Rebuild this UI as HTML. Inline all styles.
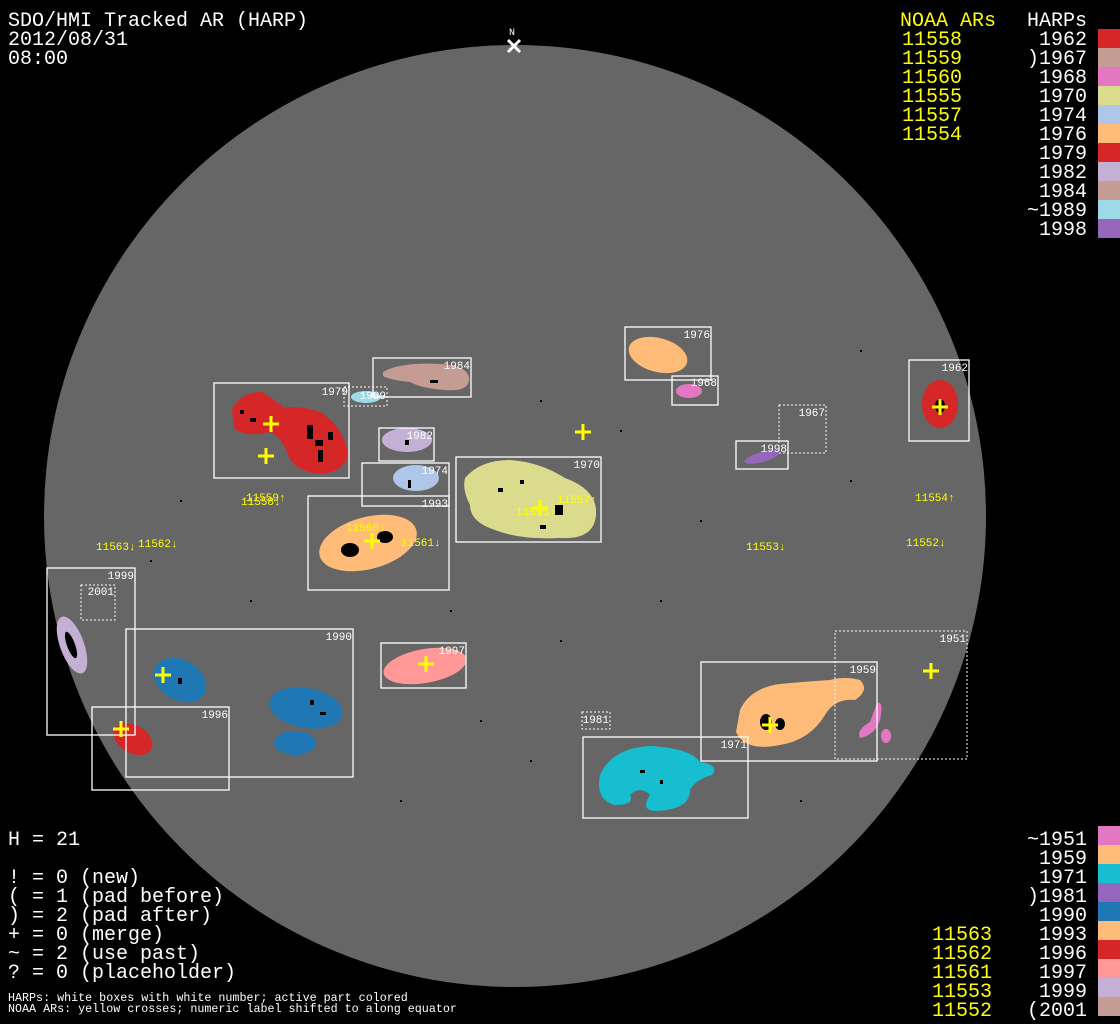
<!DOCTYPE html>
<html><head><meta charset="utf-8"><style>
html,body{margin:0;padding:0;background:#000;}
svg{display:block}
text{font-family:"Liberation Mono",monospace;}
</style></head><body>
<svg width="1120" height="1024" viewBox="0 0 1120 1024" xmlns="http://www.w3.org/2000/svg">
<rect width="1120" height="1024" fill="#000"/>
<circle cx="515" cy="516" r="471" fill="#666"/>
<text x="509" y="35" fill="#fff" font-size="10">N</text>
<path d="M508 40 L520 52 M520 40 L508 52" stroke="#fff" stroke-width="3"/>

<g>
<path d="M232 410 Q240 392 262 392 Q272 398 285 408 Q300 405 320 412 Q345 428 348 455 Q345 472 320 474 Q295 472 288 455 Q282 437 270 432 Q245 438 234 428 Z" fill="#d62728"/>
<ellipse cx="366" cy="397" rx="15" ry="6" fill="#9edae5"/>
<path d="M383 372 Q400 362 440 364 Q470 366 469 380 Q468 392 445 390 Q420 388 410 382 Q390 380 383 376Z" fill="#c49c94"/>
<ellipse cx="407" cy="440" rx="25" ry="12" fill="#c5b0d5"/>
<ellipse cx="416" cy="478" rx="23" ry="13" fill="#aec7e8"/>
<ellipse cx="368" cy="543" rx="50" ry="26" transform="rotate(-15 368 543)" fill="#ffbb78"/>
<path d="M465 478 Q480 460 510 460 Q540 462 565 478 Q598 490 596 515 Q594 540 560 538 Q520 540 495 530 Q470 522 470 505 Q462 490 465 478Z" fill="#dbdb8d"/>
<ellipse cx="658" cy="355" rx="30" ry="17" transform="rotate(15 658 355)" fill="#ffbb78"/>
<ellipse cx="689" cy="391" rx="13" ry="7" fill="#e377c2"/>
<ellipse cx="940" cy="404" rx="18" ry="24" fill="#d62728"/>
<ellipse cx="762" cy="457" rx="18" ry="5" transform="rotate(-15 762 457)" fill="#9467bd"/>
<ellipse cx="72" cy="645" rx="12" ry="30" transform="rotate(-20 72 645)" fill="#c5b0d5"/>
<ellipse cx="180" cy="680" rx="28" ry="20" transform="rotate(30 180 680)" fill="#1f77b4"/>
<ellipse cx="306" cy="708" rx="37" ry="20" transform="rotate(10 306 708)" fill="#1f77b4"/>
<ellipse cx="295" cy="743" rx="21" ry="12" fill="#1f77b4"/>
<ellipse cx="133" cy="739" rx="21" ry="14" transform="rotate(30 133 739)" fill="#d62728"/>
<ellipse cx="425" cy="666" rx="42" ry="17" transform="rotate(-10 425 666)" fill="#ff9896"/>
<path d="M600 775 Q612 748 650 746 Q690 748 700 762 Q720 765 712 775 Q695 780 690 790 Q690 810 655 811 Q640 810 650 795 Q640 785 630 795 Q635 805 615 805 Q595 800 600 775Z" fill="#17becf"/>
<path d="M740 710 Q750 688 780 684 Q800 682 830 680 Q845 676 860 680 Q870 690 855 700 Q835 698 825 715 Q810 740 780 745 Q745 752 736 732Z" fill="#ffbb78"/>
<path d="M877 703 Q884 700 880 720 Q875 735 860 738 Q856 730 870 722Z" fill="#e377c2"/>
<ellipse cx="886" cy="736" rx="5" ry="7" fill="#e377c2"/>
</g>
<g fill="#000">
<ellipse cx="350" cy="550" rx="9" ry="7"/><ellipse cx="385" cy="537" rx="8" ry="6"/>
<rect x="307" y="425" width="6" height="14"/><rect x="315" y="440" width="8" height="6"/><rect x="318" y="450" width="5" height="12"/>
<rect x="250" y="418" width="6" height="4"/><rect x="240" y="410" width="4" height="4"/><rect x="328" y="432" width="5" height="8"/>
<ellipse cx="766" cy="722" rx="6" ry="8"/>
<ellipse cx="780" cy="724" rx="5" ry="6"/><ellipse cx="940" cy="406" rx="5" ry="7"/>
<rect x="555" y="505" width="8" height="10"/><rect x="498" y="488" width="5" height="4"/><rect x="520" y="480" width="4" height="4"/><rect x="540" y="525" width="6" height="4"/>
<ellipse cx="71" cy="645" rx="4" ry="14" transform="rotate(-20 71 645)"/>
<rect x="430" y="380" width="8" height="3"/><rect x="405" y="440" width="4" height="5"/><rect x="408" y="480" width="3" height="8"/>
<rect x="310" y="700" width="4" height="5"/><rect x="320" y="712" width="6" height="3"/><rect x="178" y="678" width="4" height="6"/>
<rect x="640" y="770" width="5" height="3"/><rect x="660" y="780" width="3" height="4"/>
</g>
<!-- specks -->
<g fill="#000">
<rect x="180" y="500" width="2" height="2"/><rect x="540" y="400" width="2" height="2"/><rect x="620" y="430" width="2" height="2"/>
<rect x="700" y="520" width="2" height="2"/><rect x="850" y="480" width="2" height="2"/><rect x="450" y="610" width="2" height="2"/>
<rect x="560" y="640" width="2" height="2"/><rect x="660" y="600" width="2" height="2"/><rect x="250" y="600" width="2" height="2"/>
<rect x="150" y="560" width="2" height="2"/><rect x="860" y="350" width="2" height="2"/><rect x="480" y="720" width="2" height="2"/>
<rect x="530" y="760" width="2" height="2"/><rect x="400" y="800" width="2" height="2"/><rect x="800" y="800" width="2" height="2"/>
</g>

<g fill="none" stroke="#fff" stroke-width="1.3">
<rect x="214" y="383" width="135" height="95"/>
<rect x="373" y="358" width="98" height="39"/>
<rect x="379" y="428" width="55" height="33"/>
<rect x="362" y="463" width="87" height="43"/>
<rect x="308" y="496" width="141" height="94"/>
<rect x="456" y="457" width="145" height="85"/>
<rect x="625" y="327" width="86" height="53"/>
<rect x="672" y="376" width="46" height="29"/>
<rect x="909" y="360" width="60" height="81"/>
<rect x="736" y="441" width="52" height="28"/>
<rect x="47" y="568" width="88" height="167"/>
<rect x="126" y="629" width="227" height="148"/>
<rect x="92" y="707" width="137" height="83"/>
<rect x="381" y="643" width="85" height="45"/>
<rect x="583" y="737" width="165" height="81"/>
<rect x="701" y="662" width="176" height="99"/>
</g>
<g fill="none" stroke="#fff" stroke-width="1" stroke-dasharray="2,2">
<rect x="344" y="387" width="43" height="19"/>
<rect x="779" y="405" width="47" height="48"/>
<rect x="81" y="585" width="34" height="35"/>
<rect x="582" y="712" width="28" height="17"/>
<rect x="835" y="631" width="132" height="128"/>
</g>
<g fill="#fff" font-size="11" text-anchor="end">
<text x="348" y="395">1979</text><text x="386" y="399">1989</text>
<text x="470" y="369">1984</text><text x="433" y="439">1982</text>
<text x="448" y="474">1974</text><text x="448" y="507">1993</text>
<text x="600" y="468">1970</text><text x="710" y="338">1976</text>
<text x="717" y="386">1968</text><text x="968" y="371">1962</text>
<text x="825" y="416">1967</text><text x="787" y="452">1998</text>
<text x="134" y="579">1999</text><text x="114" y="595">2001</text>
<text x="352" y="640">1990</text><text x="228" y="718">1996</text>
<text x="465" y="654">1997</text><text x="609" y="723">1981</text>
<text x="747" y="748">1971</text><text x="876" y="673">1959</text>
<text x="966" y="642">1951</text>
</g>

<g stroke="#ff0" stroke-width="3">
<path d="M263 424h16M271 416v16"/><path d="M258 456h16M266 448v16"/>
<path d="M575 432h16M583 424v16"/><path d="M364 541h16M372 533v16"/>
<path d="M532 508h16M540 500v16"/><path d="M932 407h16M940 399v16"/>
<path d="M155 675h16M163 667v16"/><path d="M113 729h16M121 721v16"/>
<path d="M418 664h16M426 656v16"/><path d="M762 725h16M770 717v16"/>
<path d="M923 671h16M931 663v16"/>
</g>
<g fill="#ff0" font-size="11">
<text x="241" y="505">11558↓</text><text x="246" y="501">11559↑</text>
<text x="346" y="531">11560↓</text><text x="401" y="546">11561↓</text>
<text x="516" y="515">11555↑</text><text x="557" y="503">11557↑</text>
<text x="96" y="550">11563↓</text><text x="138" y="547">11562↓</text>
<text x="746" y="550">11553↓</text><text x="906" y="546">11552↓</text>
<text x="915" y="501">11554↑</text>
</g>

<g fill="#fff" font-size="20">
<text x="8" y="26">SDO/HMI Tracked AR (HARP)</text>
<text x="8" y="45">2012/08/31</text>
<text x="8" y="64">08:00</text>
</g>
<g font-size="20">
<text x="900" y="26" fill="#ff0">NOAA ARs</text>
<text x="1087" y="26" fill="#fff" text-anchor="end">HARPs</text>
<g fill="#ff0">
<text x="902" y="45">11558</text><text x="902" y="64">11559</text><text x="902" y="83">11560</text>
<text x="902" y="102">11555</text><text x="902" y="121">11557</text><text x="902" y="140">11554</text>
</g>
<g fill="#fff" text-anchor="end">
<text x="1087" y="45">1962</text><text x="1087" y="64">)1967</text><text x="1087" y="83">1968</text>
<text x="1087" y="102">1970</text><text x="1087" y="121">1974</text><text x="1087" y="140">1976</text>
<text x="1087" y="159">1979</text><text x="1087" y="178">1982</text><text x="1087" y="197">1984</text>
<text x="1087" y="216">~1989</text><text x="1087" y="235">1998</text>
</g>
</g>
<g>
<rect x="1098" y="29" width="22" height="19" fill="#d62728"/>
<rect x="1098" y="48" width="22" height="19" fill="#c49c94"/>
<rect x="1098" y="67" width="22" height="19" fill="#e377c2"/>
<rect x="1098" y="86" width="22" height="19" fill="#dbdb8d"/>
<rect x="1098" y="105" width="22" height="19" fill="#aec7e8"/>
<rect x="1098" y="124" width="22" height="19" fill="#ffbb78"/>
<rect x="1098" y="143" width="22" height="19" fill="#d62728"/>
<rect x="1098" y="162" width="22" height="19" fill="#c5b0d5"/>
<rect x="1098" y="181" width="22" height="19" fill="#c49c94"/>
<rect x="1098" y="200" width="22" height="19" fill="#9edae5"/>
<rect x="1098" y="219" width="22" height="19" fill="#9467bd"/>
</g>

<g font-size="20">
<g fill="#fff" text-anchor="end">
<text x="1087" y="845">~1951</text><text x="1087" y="864">1959</text><text x="1087" y="883">1971</text>
<text x="1087" y="902">)1981</text><text x="1087" y="921">1990</text><text x="1087" y="940">1993</text>
<text x="1087" y="959">1996</text><text x="1087" y="978">1997</text><text x="1087" y="997">1999</text>
<text x="1087" y="1016">(2001</text>
</g>
<g fill="#ff0">
<text x="932" y="940">11563</text><text x="932" y="959">11562</text><text x="932" y="978">11561</text>
<text x="932" y="997">11553</text><text x="932" y="1016">11552</text>
</g>
</g>
<g>
<rect x="1098" y="826" width="22" height="19" fill="#e377c2"/>
<rect x="1098" y="845" width="22" height="19" fill="#ffbb78"/>
<rect x="1098" y="864" width="22" height="19" fill="#17becf"/>
<rect x="1098" y="883" width="22" height="19" fill="#9467bd"/>
<rect x="1098" y="902" width="22" height="19" fill="#1f77b4"/>
<rect x="1098" y="921" width="22" height="19" fill="#ffbb78"/>
<rect x="1098" y="940" width="22" height="19" fill="#d62728"/>
<rect x="1098" y="959" width="22" height="19" fill="#ff9896"/>
<rect x="1098" y="978" width="22" height="19" fill="#c5b0d5"/>
<rect x="1098" y="997" width="22" height="19" fill="#c49c94"/>
</g>

<g fill="#fff" font-size="20" xml:space="preserve">
<text x="8" y="845">H = 21</text>
<text x="8" y="883">! = 0 (new)</text>
<text x="8" y="902">( = 1 (pad before)</text>
<text x="8" y="921">) = 2 (pad after)</text>
<text x="8" y="940">+ = 0 (merge)</text>
<text x="8" y="959">~ = 2 (use past)</text>
<text x="8" y="978">? = 0 (placeholder)</text>
</g>
<g fill="#fff" font-size="11.7">
<text x="8" y="1001">HARPs: white boxes with white number; active part colored</text>
<text x="8" y="1012">NOAA ARs: yellow crosses; numeric label shifted to along equator</text>
</g>
</svg>
</body></html>
